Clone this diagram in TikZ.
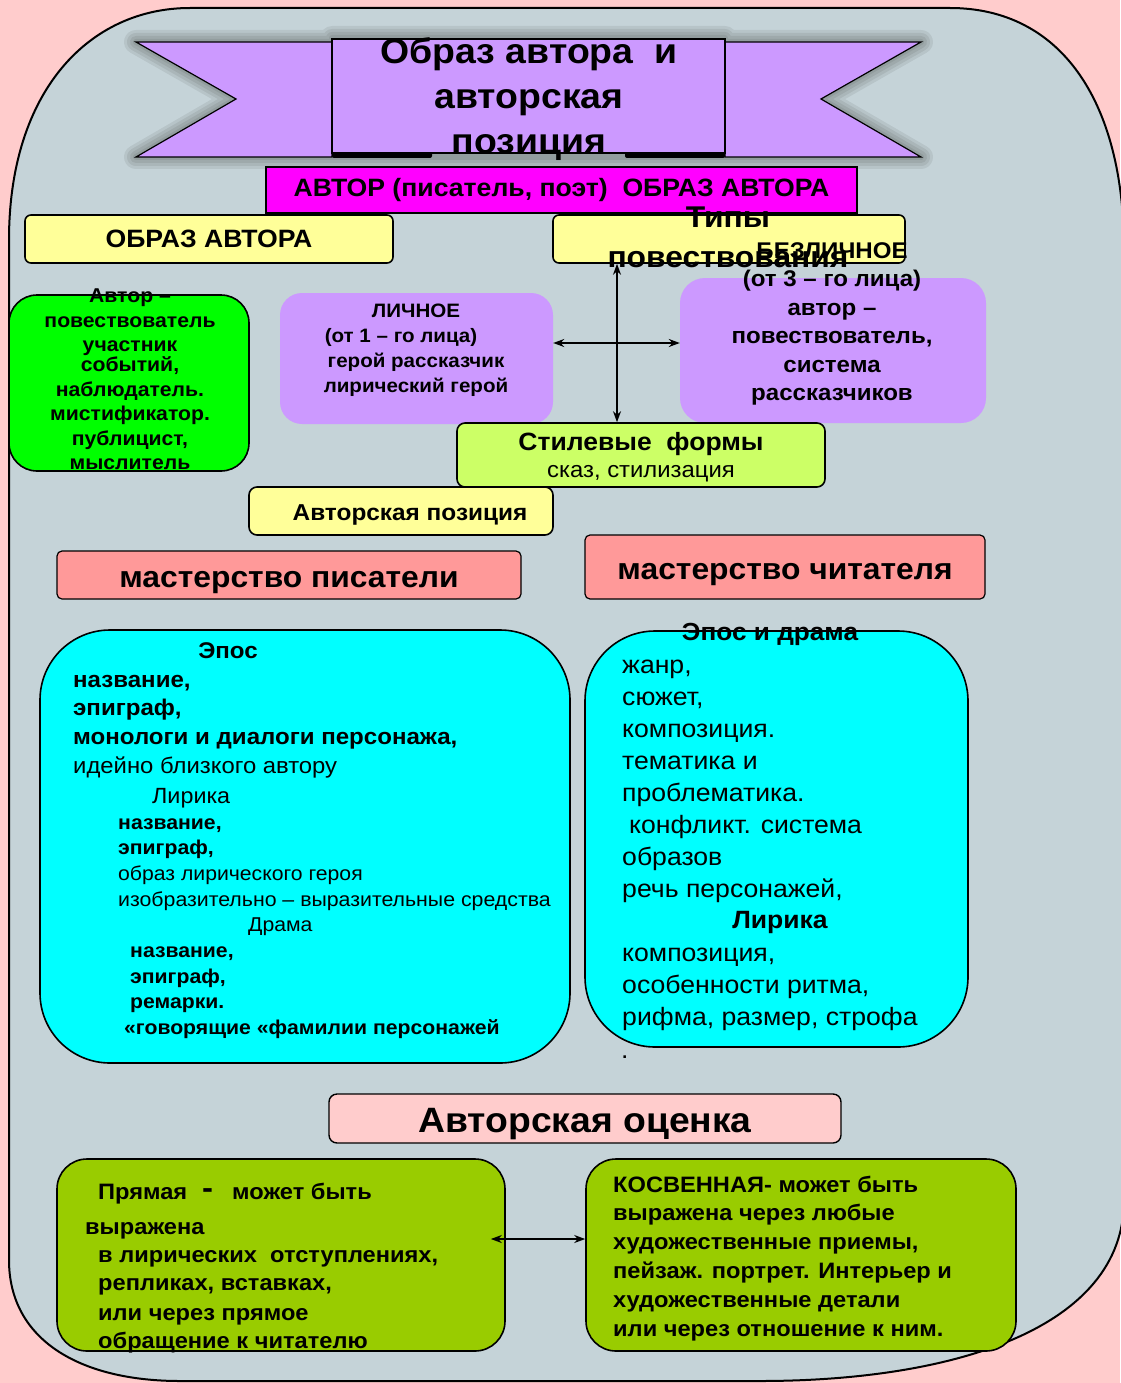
\documentclass[tikz,border=0pt]{standalone}
\usepackage{fontspec}
\setmainfont{Liberation Sans}[FakeStretch=1.06]
\usetikzlibrary{arrows.meta}
\definecolor{bgpink}{HTML}{FFCCCC}
\definecolor{panelc}{HTML}{C5D3D8}
\definecolor{lav}{HTML}{CC99FF}
\definecolor{mag}{HTML}{FF00FF}
\definecolor{yel}{HTML}{FFFF99}
\definecolor{grn}{HTML}{00FF00}
\definecolor{lime}{HTML}{CCFF66}
\definecolor{salm}{HTML}{FF9999}
\definecolor{cyn}{HTML}{00FFFF}
\definecolor{olv}{HTML}{99CC00}
\newcommand\fsz[2]{\fontsize{#1}{#2}\selectfont}
\begin{document}
\begin{tikzpicture}[x=1pt,y=-1pt,
 box/.style={draw=black,line width=1.6pt,inner sep=0pt},
 tx/.style={inner sep=0pt,anchor=base west},
 txc/.style={inner sep=0pt,anchor=base},
 arr/.style={line width=1.6pt,{Stealth[length=11pt,width=8pt]}-{Stealth[length=11pt,width=8pt]}},
 shad/.style={draw=black,line join=round,opacity=0.07},
]
\useasboundingbox (0,0) rectangle (1120,1383);
\fill[bgpink] (0,0) rectangle (1120,1383);
% panel
\draw[fill=panelc,line width=2pt] (9,240) .. controls (9,90) and (90,8) .. (190,8) -- (950,8)
  .. controls (1060,8) and (1124,100) .. (1124,250) -- (1124,1200)
  .. controls (1124,1330) and (950,1381) .. (760,1381) -- (180,1381)
  .. controls (80,1381) and (9,1340) .. (9,1260) -- cycle;
% ribbon shadow
\foreach \w in {24,18,12,6}
  {\draw[shad,line width=\w pt] (136,42) -- (332,42) -- (332,38) -- (725,38) -- (725,42) -- (921,42) -- (821,99) -- (921,157) -- (136,157) -- (236,99) -- cycle;}
% ribbon
\draw[fill=lav,line width=1.2pt] (136,42) -- (332,42) -- (332,157) -- (136,157) -- (236,99) -- cycle;
\draw[fill=lav,line width=1.2pt] (921,42) -- (725,42) -- (725,157) -- (921,157) -- (821,99) -- cycle;
\fill[black,rounded corners=2pt] (332,151) rectangle (432,158);
\fill[black,rounded corners=2pt] (625,151) rectangle (725,158);
\node[box,fill=lav,line width=1.2pt,minimum width=393pt,minimum height=114pt] (title) at (528.5,96) {};
\node[anchor=north,align=center,inner sep=0pt,font=\bfseries\fsz{35.3}{45}] (titletext) at (529,37) {Образ автора\ \ и\\авторская\\позиция};
% magenta bar
\node[box,fill=mag,line width=1.2pt,minimum width=591pt,minimum height=46pt,font=\bfseries\fsz{25.1}{28}] (avtor) at (561.5,190) {АВТОР (писатель, поэт)\ \ ОБРАЗ АВТОРА};
% yellow boxes
\node[box,fill=yel,rounded corners=6pt,minimum width=368pt,minimum height=48pt,font=\bfseries\fsz{25.1}{28}] (obraz) at (209,239) {ОБРАЗ АВТОРА};
\node[box,fill=yel,rounded corners=6pt,minimum width=352pt,minimum height=48pt] (tipy) at (729,239) {};
% green box
\node[box,fill=grn,rounded corners=28pt,minimum width=240pt,minimum height=176pt] (green) at (129,383) {};
\node[anchor=north,align=center,inner sep=0pt,font=\bfseries\fsz{20}{24.5}] (greentext) at (130,289)
 {Автор –\\повествователь\\участник\\[-4.5pt]событий,\\наблюдатель.\\мистификатор.\\публицист,\\мыслитель};
% lichnoe / bezlichnoe
\node[fill=lav,rounded corners=22pt,inner sep=0pt,minimum width=273pt,minimum height=131pt] (lich) at (416.5,358.5) {};
\node[anchor=north,align=center,inner sep=0pt,font=\bfseries\fsz{19.4}{25}] (lichtext) at (416,304)
 {ЛИЧНОЕ\\(от 1 – го лица)\rule{30pt}{0pt}\\герой рассказчик\\лирический герой};
\node[fill=lav,rounded corners=25pt,inner sep=0pt,minimum width=306pt,minimum height=145pt] (bez) at (833,350.5) {};
\node[anchor=north,align=center,inner sep=0pt,font=\bfseries\fsz{22.7}{28.5}] (beztext) at (832,242)
 {БЕЗЛИЧНОЕ\\(от 3 – го лица)\\автор –\\повествователь,\\система\\рассказчиков};
\node[anchor=north,align=center,inner sep=0pt,font=\bfseries\fsz{30}{40}] (tipytext) at (728,207) {Типы\\повествования};
% stilevye formy
\node[box,fill=lime,rounded corners=8pt,minimum width=368pt,minimum height=64pt] (stil) at (641,455) {};
\node[txc,font=\bfseries\fsz{25}{27}] (stil1) at (641,450) {Стилевые\ \ формы};
\node[txc,font=\fsz{22.5}{24}] (stil2) at (641,477) {сказ, стилизация};
% arrows in the middle
\coordinate (vx) at (617,0);
\coordinate (hy) at (0,343);
\draw[arr] (tipy.south -| vx) -- (stil.north -| vx);
\draw[arr] (lich.east |- hy) -- (bez.west |- hy);
% avtorskaya poziciya
\node[box,fill=yel,rounded corners=8pt,minimum width=304pt,minimum height=48pt] (poz) at (401,511) {};
\node[txc,font=\bfseries\fsz{23}{25}] (poztext) at (410,520) {Авторская позиция};
% masterstvo
\node[box,fill=salm,rounded corners=5pt,line width=1.2pt,minimum width=464pt,minimum height=48pt] (mpis) at (289,575) {};
\node[txc,font=\bfseries\fsz{30}{33}] (mpistext) at (289,587) {мастерство писатели};
\node[box,fill=salm,rounded corners=5pt,line width=1.2pt,minimum width=400pt,minimum height=64pt] (mchit) at (785,567) {};
\node[txc,font=\bfseries\fsz{30}{33}] (mchittext) at (785,579) {мастерство читателя};
% cyan boxes
\node[box,fill=cyn,rounded corners=70pt,minimum width=530pt,minimum height=433pt] (cl) at (305,846.5) {};
\node[box,fill=cyn,rounded corners=70pt,minimum width=383pt,minimum height=416pt] (cr) at (776.5,839) {};
% left cyan text
\node[txc,font=\bfseries\fsz{22.7}{25}] (l1) at (228,658) {Эпос};
\node[tx,font=\bfseries\fsz{22.7}{25}] (l2) at (73,687) {название,};
\node[tx,font=\bfseries\fsz{22.7}{25}] (l3) at (73,715) {эпиграф,};
\node[tx,font=\bfseries\fsz{22.7}{25}] (l4) at (73,744) {монологи и диалоги персонажа,};
\node[tx,font=\fsz{22.5}{25}] (l5) at (73,773) {идейно близкого автору};
\node[tx,font=\fsz{22}{25}] (l6) at (152,803) {Лирика};
\node[tx,font=\bfseries\fsz{20}{23}] (l7) at (118,829) {название,};
\node[tx,font=\bfseries\fsz{20}{23}] (l8) at (118,854) {эпиграф,};
\node[tx,font=\fsz{20}{23}] (l9) at (118,880) {образ лирического героя};
\node[tx,font=\fsz{20.1}{23}] (l10) at (118,906) {изобразительно – выразительные средства};
\node[tx,font=\fsz{20}{23}] (l11) at (248,931) {Драма};
\node[tx,font=\bfseries\fsz{20}{23}] (l12) at (130,957) {название,};
\node[tx,font=\bfseries\fsz{20}{23}] (l13) at (130,983) {эпиграф,};
\node[tx,font=\bfseries\fsz{20}{23}] (l14) at (130,1008) {ремарки.};
\node[tx,font=\bfseries\fsz{20}{23}] (l15) at (124,1034) {«говорящие «фамилии персонажей};
% right cyan text
\node[txc,font=\bfseries\fsz{24.7}{27}] (r0) at (770,640) {Эпос и драма};
\foreach \t/\y [count=\i] in {{жанр,}/673,{сюжет,}/705,{композиция.}/737,{тематика и}/769,{проблематика.}/801}
  {\node[tx,font=\fsz{25.1}{30}] (ra\i) at (622,\y) {\t};}
\node[tx,font=\fsz{25.1}{30}] (rb1) at (629,833) {конфликт. система};
\node[tx,font=\fsz{25.1}{30}] (rb2) at (622,865) {образов};
\node[tx,font=\fsz{25.1}{30}] (rb3) at (622,897) {речь персонажей,};
\node[txc,font=\bfseries\fsz{25}{30}] (rlir) at (780,928) {Лирика};
\foreach \t/\y [count=\i] in {{композиция,}/961,{особенности ритма,}/993,{рифма, размер, строфа}/1025}
  {\node[tx,font=\fsz{25.1}{30}] (rc\i) at (622,\y) {\t};}
\node[tx,font=\fsz{25}{30}] (rdot) at (621,1058) {.};
% avtorskaya ocenka
\node[box,fill=bgpink,rounded corners=8pt,line width=1.4pt,minimum width=512pt,minimum height=49pt] (ocen) at (585,1118.5) {};
\node[txc,font=\bfseries\fsz{35.2}{38}] (ocentext) at (585,1132) {Авторская оценка};
% bottom green boxes
\node[box,fill=olv,rounded corners=30pt,minimum width=448pt,minimum height=192pt] (gl) at (281,1255) {};
\node[box,fill=olv,rounded corners=30pt,minimum width=430pt,minimum height=192pt] (gr) at (801,1255) {};
\node[tx,font=\bfseries\fsz{22.3}{25}] (p1) at (98,1199) {Прямая};
\node[tx,font=\bfseries\fsz{31}{30}] (pdash) at (202,1198) {-};
\node[tx,font=\bfseries\fsz{22.3}{25}] (p2) at (232,1199) {может быть};
\node[tx,font=\bfseries\fsz{22.3}{25}] (p3) at (85,1234) {выражена};
\foreach \t/\y [count=\i] in {{в лирических\ \ отступлениях,}/1262,{репликах, вставках,}/1290,{или через прямое}/1320,{обращение к читателю}/1348}
  {\node[tx,font=\bfseries\fsz{22.3}{25}] (pq\i) at (98,\y) {\t};}
\foreach \t/\y [count=\i] in {{КОСВЕННАЯ- может быть}/1192,{выражена через любые}/1220,{художественные приемы,}/1249,{пейзаж. портрет. Интерьер и}/1278,{художественные детали}/1307,{или через отношение к ним.}/1336}
  {\node[tx,font=\bfseries\fsz{22.3}{25}] (k\i) at (613,\y) {\t};}
\coordinate (by) at (0,1239);
\draw[arr] ([xshift=-15pt]gl.east |- by) -- (gr.west |- by);
\end{tikzpicture}
\end{document}
